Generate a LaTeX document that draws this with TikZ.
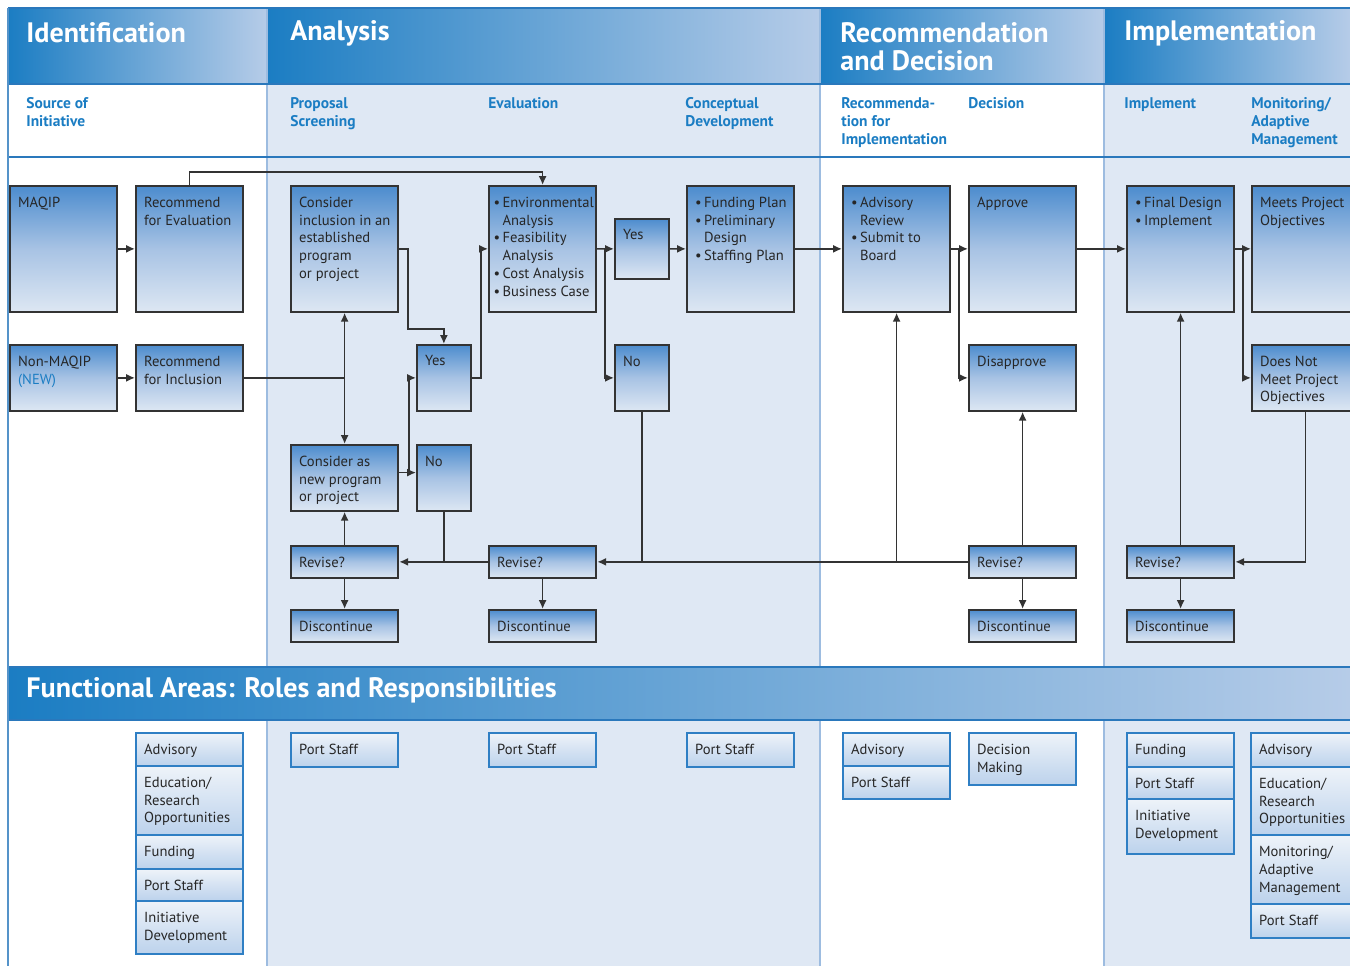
\documentclass[tikz,border=0pt]{standalone}
\usepackage{fontspec}
\setmainfont{PT Sans}
\usetikzlibrary{arrows.meta}

\definecolor{hdblue}{HTML}{1B7DC3}
\definecolor{hdpale}{HTML}{B6CCE8}
\definecolor{colpale}{HTML}{DFE8F4}
\definecolor{rulecol}{HTML}{2A78BC}
\definecolor{sepcol}{HTML}{9DBCE0}
\definecolor{stepblue}{HTML}{4C8CCE}
\definecolor{stepmid}{HTML}{A8C3E4}
\definecolor{steppale}{HTML}{DDE7F3}
\definecolor{roletop}{HTML}{EEF3F9}
\definecolor{rolebot}{HTML}{BCD2EC}
\definecolor{roleframe}{HTML}{2F7FC4}

\newcommand{\bitem}{\textbullet\,}
\newcommand{\bcont}{\hphantom{\textbullet\,}}

\tikzset{
  stepbox/.style={draw=black!80, line width=1pt, top color=stepblue, bottom color=steppale, middle color=stepmid,
    anchor=north west, inner sep=0pt, minimum width=2.15cm},
  tallbox/.style={minimum height=2.52cm},
  shortbox/.style={minimum height=1.32cm},
  flatbox/.style={minimum height=0.64cm},
  thinbox/.style={minimum width=1.08cm},
  boxtext/.style={anchor=north west, align=left, inner xsep=5pt, inner ysep=6.5pt,
    font=\fontsize{8.3}{10.2}\selectfont, text=black!85},
  role/.style={draw=roleframe, line width=1pt, top color=roletop, bottom color=rolebot,
    anchor=north west, inner sep=0pt, minimum width=2.15cm, minimum height=#1},
  flow/.style={draw=black!80, line width=0.9pt},
  tip/.style={-{Latex[length=5pt,width=4.5pt]}},
  coltitle/.style={anchor=west, align=left, text=white, inner sep=0pt,
    font=\fontsize{16}{16}\selectfont\bfseries},
  colsub/.style={anchor=north west, align=left, text=hdblue, inner sep=0pt,
    font=\fontsize{8.8}{10.3}\selectfont\bfseries},
}

\begin{document}
\begin{tikzpicture}[x=0.02cm, y=-0.02cm]
  \useasboundingbox (0,0) rectangle (1350,966);
  \fill[white] (0,0) rectangle (1350,966);

  % column backgrounds
  \fill[colpale] (267,84) rectangle (820,966);
  \fill[colpale] (1104,84) rectangle (1350,966);
  \shade[left color=hdblue, right color=hdpale] (8,8) rectangle (267,84);
  \shade[left color=hdblue, right color=hdpale] (267,8) rectangle (820,84);
  \shade[left color=hdblue, right color=hdpale] (820,8) rectangle (1104,84);
  \shade[left color=hdblue, right color=hdpale] (1104,8) rectangle (1350,84);
  \shade[left color=hdblue, right color=hdpale] (8,667) rectangle (1350,720);

  % rules
  \foreach \xx in {267,820,1104} {
    \draw[sepcol, line width=0.8pt] (\xx,8) -- (\xx,667);
    \draw[sepcol, line width=0.8pt] (\xx,720) -- (\xx,966);
  }
  \foreach \yy in {8,84,157,667,720} {
    \draw[rulecol, line width=1.2pt] (8,\yy) -- (1350,\yy);
  }
  \draw[rulecol!80, line width=1pt] (8,8) -- (8,966);

  % titles
  \node[coltitle] (tIdent) at (26,33) {Identification};
  \node[coltitle] (tAnal) at (290,33) {Analysis};
  \node[coltitle] (tRec) at (840,47) {Recommendation\\and Decision};
  \node[coltitle] (tImpl) at (1124,33) {Implementation};
  \node[coltitle] (tFunc) at (26,690) {Functional Areas: Roles and Responsibilities};

  \node[colsub] (sSource) at (26,97) {Source of\\Initiative};
  \node[colsub] (sScreen) at (290,97) {Proposal\\Screening};
  \node[colsub] (sEval) at (488,97) {Evaluation};
  \node[colsub] (sConcept) at (685,97) {Conceptual\\Development};
  \node[colsub] (sRecom) at (841,97) {Recommenda-\\tion for\\Implementation};
  \node[colsub] (sDecide) at (968,97) {Decision};
  \node[colsub] (sImpl) at (1124,97) {Implement};
  \node[colsub] (sMonitor) at (1251,97) {Monitoring/\\Adaptive\\Management};

  % identification
  \node[stepbox, tallbox, label={[boxtext]north west:MAQIP}] (maqip) at (9,185) {};
  \node[stepbox, tallbox, label={[boxtext]north west:Recommend\\for Evaluation}] (recEval) at (135,185) {};
  \node[stepbox, shortbox, label={[boxtext]north west:Non-MAQIP\\\textcolor{hdblue}{(NEW)}}] (nonMaqip) at (9,344) {};
  \node[stepbox, shortbox, label={[boxtext]north west:Recommend\\for Inclusion}] (recIncl) at (135,344) {};

  % analysis
  \node[stepbox, tallbox, label={[boxtext]north west:Consider\\inclusion in an\\established\\program\\or project}] (inclusion) at (290,185) {};
  \node[stepbox, tallbox, label={[boxtext, inner xsep=3pt]north west:\bitem Environmental\\\bcont Analysis\\\bitem Feasibility\\\bcont Analysis\\\bitem Cost Analysis\\\bitem Business Case}] (evalBox) at (488,185) {};
  \node[stepbox, thinbox, minimum height=1.2cm, label={[boxtext]north west:Yes}] (yesEval) at (614,218) {};
  \node[stepbox, tallbox, label={[boxtext]north west:\bitem Funding Plan\\\bitem Preliminary\\\bcont Design\\\bitem Staffing Plan}] (conceptual) at (686,185) {};
  \node[stepbox, thinbox, shortbox, label={[boxtext]north west:Yes}] (yesScreen) at (416,344) {};
  \node[stepbox, thinbox, shortbox, label={[boxtext]north west:No}] (noEval) at (614,344) {};
  \node[stepbox, shortbox, label={[boxtext]north west:Consider as\\new program\\or project}] (newProg) at (290,444) {};
  \node[stepbox, thinbox, shortbox, label={[boxtext]north west:No}] (noScreen) at (416,444) {};
  \node[stepbox, flatbox, label={[boxtext]north west:Revise?}] (reviseA) at (290,545) {};
  \node[stepbox, flatbox, label={[boxtext]north west:Revise?}] (reviseB) at (488,545) {};
  \node[stepbox, flatbox, label={[boxtext]north west:Discontinue}] (discA) at (290,609) {};
  \node[stepbox, flatbox, label={[boxtext]north west:Discontinue}] (discB) at (488,609) {};

  % recommendation and decision
  \node[stepbox, tallbox, label={[boxtext]north west:\bitem Advisory\\\bcont Review\\\bitem Submit to\\\bcont Board}] (advisory) at (842,185) {};
  \node[stepbox, tallbox, label={[boxtext]north west:Approve}] (approve) at (968,185) {};
  \node[stepbox, shortbox, label={[boxtext]north west:Disapprove}] (disapprove) at (968,344) {};
  \node[stepbox, flatbox, label={[boxtext]north west:Revise?}] (reviseC) at (968,545) {};
  \node[stepbox, flatbox, label={[boxtext]north west:Discontinue}] (discC) at (968,609) {};

  % implementation
  \node[stepbox, tallbox, label={[boxtext]north west:\bitem Final Design\\\bitem Implement}] (finalDesign) at (1126,185) {};
  \node[stepbox, tallbox, label={[boxtext]north west:Meets Project\\Objectives}] (meets) at (1251,185) {};
  \node[stepbox, shortbox, label={[boxtext]north west:Does Not\\Meet Project\\Objectives}] (notMeets) at (1251,344) {};
  \node[stepbox, flatbox, label={[boxtext]north west:Revise?}] (reviseD) at (1126,545) {};
  \node[stepbox, flatbox, label={[boxtext]north west:Discontinue}] (discD) at (1126,609) {};

  % connectors
  \draw[flow,tip] (maqip) -- (recEval);
  \draw[flow,tip] (nonMaqip) -- (recIncl);
  \draw[flow,tip] (recEval.north) -- ++(0,-13) -| (evalBox.north);
  \coordinate (inclJoin) at (recIncl.east -| inclusion.south);
  \draw[flow] (recIncl.east) -- (inclJoin);
  \draw[flow,tip] (inclJoin) -- (inclusion.south);
  \draw[flow,tip] (inclJoin) -- (newProg.north);
  \draw[flow,tip] (inclusion.east) -- ++(9,0) -- ++(0,80) -| (yesScreen.north);
  \coordinate (newOut) at ([yshift=3pt]newProg.east);
  \draw[flow,tip] (newOut) -- (newOut -| noScreen.west);
  \draw[flow,tip] (newOut) ++(10,0) |- (yesScreen.west);
  \draw[flow,tip] (yesScreen.east) -- ++(9,0) |- (evalBox.west);
  \draw[flow,tip] (evalBox) -- (yesEval);
  \draw[flow,tip] (evalBox.east) ++(8,0) |- (noEval.west);
  \draw[flow,tip] (yesEval) -- (conceptual);
  \draw[flow,tip] (conceptual) -- (advisory);
  \draw[flow,tip] (advisory) -- (approve);
  \draw[flow,tip] (advisory.east) ++(8,0) |- (disapprove.west);
  \draw[flow,tip] (approve) -- (finalDesign);
  \draw[flow,tip] (finalDesign) -- (meets);
  \draw[flow,tip] (finalDesign.east) ++(8,0) |- (notMeets.west);
  \draw[flow,tip] (notMeets.south) |- (reviseD.east);
  \draw[flow,tip] (reviseD) -- (finalDesign);
  \draw[flow,tip] (reviseD) -- (discD);
  \draw[flow,tip] (reviseC) -- (disapprove);
  \draw[flow,tip] (reviseC) -- (discC);
  \draw[flow,tip] (reviseC) -- (reviseB);
  \draw[flow,tip] (reviseC.west -| advisory.south) -- (advisory.south);
  \draw[flow] (noEval) -- (noEval.south |- reviseB.east);
  \draw[flow,tip] (reviseB) -- (reviseA);
  \draw[flow,tip] (reviseB) -- (discB);
  \draw[flow] (noScreen) -- (noScreen.south |- reviseA.east);
  \draw[flow,tip] (reviseA) -- (newProg);
  \draw[flow,tip] (reviseA) -- (discA);

  % roles and responsibilities
  \node[role=0.66cm, label={[boxtext]north west:Advisory}] (identAdv) at (135,732) {};
  \node[role=1.38cm, label={[boxtext]north west:Education/\\Research\\Opportunities}] (identEdu) at (135,765) {};
  \node[role=0.68cm, label={[boxtext]north west:Funding}] (identFund) at (135,834) {};
  \node[role=0.64cm, label={[boxtext]north west:Port Staff}] (identPort) at (135,868) {};
  \node[role=1.06cm, label={[boxtext]north west:Initiative\\Development}] (identInit) at (135,900) {};

  \node[role=0.68cm, label={[boxtext]north west:Port Staff}] (screenPort) at (290,732) {};
  \node[role=0.68cm, label={[boxtext]north west:Port Staff}] (evalPort) at (488,732) {};
  \node[role=0.68cm, label={[boxtext]north west:Port Staff}] (conceptPort) at (686,732) {};

  \node[role=0.66cm, label={[boxtext]north west:Advisory}] (recAdv) at (842,732) {};
  \node[role=0.66cm, label={[boxtext]north west:Port Staff}] (recPort) at (842,765) {};
  \node[role=1.04cm, label={[boxtext]north west:Decision\\Making}] (decMaking) at (968,732) {};

  \node[role=0.68cm, label={[boxtext]north west:Funding}] (implFund) at (1126,732) {};
  \node[role=0.64cm, label={[boxtext]north west:Port Staff}] (implPort) at (1126,766) {};
  \node[role=1.10cm, label={[boxtext]north west:Initiative\\Development}] (implInit) at (1126,798) {};

  \node[role=0.68cm, label={[boxtext]north west:Advisory}] (monAdv) at (1250,732) {};
  \node[role=1.36cm, label={[boxtext]north west:Education/\\Research\\Opportunities}] (monEdu) at (1250,766) {};
  \node[role=1.38cm, label={[boxtext]north west:Monitoring/\\Adaptive\\Management}] (monMan) at (1250,834) {};
  \node[role=0.68cm, label={[boxtext]north west:Port Staff}] (monPort) at (1250,903) {};
\end{tikzpicture}
\end{document}
